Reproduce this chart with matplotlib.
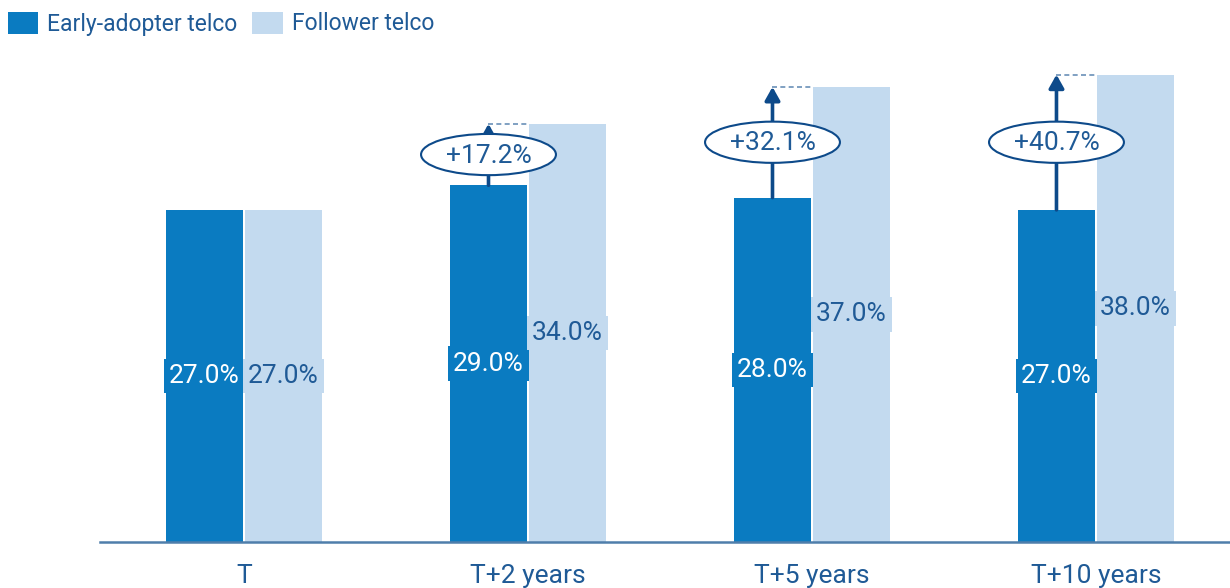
import matplotlib
matplotlib.use("Agg")
import matplotlib.pyplot as plt
from matplotlib.patches import Ellipse, Rectangle

categories = ["T", "T+2 years", "T+5 years", "T+10 years"]
early = [27.0, 29.0, 28.0, 27.0]
follower = [27.0, 34.0, 37.0, 38.0]
uplift_labels = [None, "+17.2%", "+32.1%", "+40.7%"]
series_names = ["Early-adopter telco", "Follower telco"]

DARK = "#0a7bc1"
LIGHT = "#c3daef"
TEXT = "#1f5a96"
ARROW = "#0d4a8a"

plt.rcParams['font.family'] = ['Roboto', 'DejaVu Sans']
W, H = 1230, 588
fig = plt.figure(figsize=(W / 100, H / 100), dpi=100)
ax = fig.add_axes([100 / W, 46 / H, 1130 / W, 542 / H])

bw = 0.271
off = 0.139
x = list(range(len(categories)))
xd = [i - off for i in x]
xl = [i + off for i in x]
ax.bar(xd, early, width=bw, color=DARK, zorder=2)
ax.bar(xl, follower, width=bw, color=LIGHT, zorder=2)

ax.set_xlim(-0.507, 3.472)
ax.set_ylim(0, 542 / 12.3)

fs = 19
wt = "normal"
for i in x:
    ax.text(xd[i], early[i] / 2, f"{early[i]:.1f}%", ha="center", va="center",
            color="white", fontsize=fs, fontweight=wt, zorder=4,
            bbox=dict(boxstyle="square,pad=0.2", fc=DARK, ec="none"))
    ax.text(xl[i], follower[i] / 2, f"{follower[i]:.1f}%", ha="center", va="center",
            color=TEXT, fontsize=fs, fontweight=wt, zorder=5,
            bbox=dict(boxstyle="square,pad=0.2", fc=LIGHT, ec="none"))

for i in x:
    if uplift_labels[i] is None:
        continue
    ax.annotate("", xy=(xd[i], follower[i]), xytext=(xd[i], early[i]),
                arrowprops=dict(arrowstyle="-|>,head_length=0.8,head_width=0.45",
                                color=ARROW, lw=2.6, shrinkA=0, shrinkB=0), zorder=3)
    ax.plot([xd[i], xl[i] - bw / 2], [follower[i], follower[i]], ls=(0, (3, 2)),
            color="#6a90b8", lw=1.2, zorder=3)
    ym = (early[i] + follower[i]) / 2
    ax.add_patch(Ellipse((xd[i], ym), 0.475, 3.35, fc="white", ec=ARROW, lw=1.5, zorder=6))
    ax.text(xd[i], ym - 0.1, uplift_labels[i], ha="center", va="center", color=TEXT,
            fontsize=fs, fontweight=wt, zorder=7)

for s in ["top", "right", "left"]:
    ax.spines[s].set_visible(False)
ax.spines["bottom"].set_color("#4f7eab")
ax.spines["bottom"].set_linewidth(1.8)
ax.set_yticks([])
ax.set_xticks(x)
ax.set_xticklabels(categories, fontsize=fs, color=TEXT, fontweight=wt)
ax.tick_params(axis="x", length=0, pad=16)

# legend
fig.add_artist(Rectangle((8 / W, 1 - 34 / H), 30 / W, 22 / H, transform=fig.transFigure,
                         fc=DARK, ec="none"))
fig.text(47 / W, 1 - 24 / H, series_names[0], fontsize=16.5, color=TEXT,
         fontweight=wt, va="center", ha="left")
fig.add_artist(Rectangle((252 / W, 1 - 34 / H), 31 / W, 22 / H, transform=fig.transFigure,
                         fc=LIGHT, ec="none"))
fig.text(292 / W, 1 - 24 / H, series_names[1], fontsize=16.5, color=TEXT,
         fontweight=wt, va="center", ha="left")

fig.savefig("out.png", dpi=100)
